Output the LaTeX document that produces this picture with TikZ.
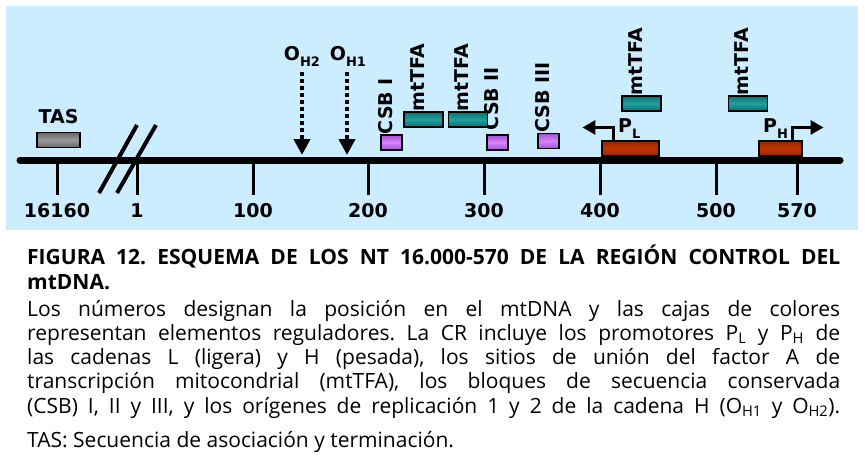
\documentclass[tikz,border=0pt]{standalone}
\usepackage{fontspec}
\setmainfont{Open Sans}
\newfontfamily\lblfont{DejaVu Sans}
\usepackage{xcolor}
\usepackage{tikz}
\usetikzlibrary{arrows.meta,positioning}
\definecolor{bgblue}{HTML}{CCECFF}
\definecolor{csbpurple}{HTML}{CC66FF}
\definecolor{tfateal}{HTML}{008C8C}
\definecolor{promred}{HTML}{C23500}
\newcommand{\sbs}[1]{\raisebox{-6pt}{\fontsize{13}{13}\selectfont #1}}
\newcommand{\capline}[1]{\makebox[813pt][s]{#1}}
\frenchspacing

\begin{document}
\begin{tikzpicture}[
  x=1pt,y=-1pt,
  lbl/.style={font=\lblfont\bfseries\fontsize{19}{19}\selectfont,inner sep=0pt},
  vlbl/.style={lbl,rotate=90,anchor=west,yshift=6pt},
  elem/.style={draw,line width=1.1pt,inner sep=0pt,minimum height=15pt},
  tasbox/.style={elem,minimum width=43pt,top color=black!60,bottom color=black!60,middle color=black!40},
  csb/.style={elem,minimum width=21pt,top color=csbpurple!80!black,bottom color=csbpurple!80!black,middle color=csbpurple!80!white},
  tfa/.style={elem,minimum width=39pt,top color=tfateal!85!black,bottom color=tfateal!85!black,middle color=tfateal!85!white},
  prom/.style={elem,top color=promred!75!black,bottom color=promred!75!black,middle color=promred},
  tick/.style={line width=3pt},
  dotarr/.style={line width=4.5pt,dash pattern=on 4pt off 3pt,-{Triangle[width=16pt,length=16pt]}},
  parr/.style={line width=3pt,-{Triangle[width=14pt,length=13pt]}},
  capt/.style={anchor=base west,inner sep=0pt,font=\fontsize{21}{21}\selectfont}
]
\useasboundingbox (0,0) rectangle (865,461);
\fill[bgblue] (6,6) rectangle (858,230);

% main strand
\coordinate (stL) at (20,160);
\coordinate (stR) at (840,160);
\draw[line width=7pt,line cap=round] (stL) -- (stR);
\foreach \xp/\pos in {57/16160,137/1,253/100,368/200,484/300,600/400,716/500,797/570}{
  \draw[tick] (\xp,160) -- (\xp,195);
  \node[lbl,anchor=base] at (\xp,217) {\pos};
}
% break
\draw[line width=4pt] (99,193) -- (137,125);
\draw[line width=4pt] (117,193) -- (156,125);

% TAS
\node[tasbox] (tas) at (58.5,140) {};
\node[lbl,above=8pt of tas] (taslbl) {TAS};

% origins
\node[lbl,anchor=base] (oh2) at (302,60) {O\sbs{H2}};
\node[lbl,anchor=base] (oh1) at (348,60) {O\sbs{H1}};
\coordinate (oh2tip) at (302,155);
\coordinate (oh1tip) at (347,155);
\draw[dotarr] (302,72) -- (oh2tip);
\draw[dotarr] (347,72) -- (oh1tip);

% CSB
\node[csb] (csb1) at (391.5,142.5) {};
\node[csb] (csb2) at (497.5,142.5) {};
\node[csb] (csb3) at (548.5,141) {};
\node[vlbl] at (csb1.north) {CSB I};
\node[vlbl,xshift=4pt] at (csb2.north) {CSB II};
\node[vlbl] at (csb3.north) {CSB III};

% mtTFA
\node[tfa] (tfa1) at (423.5,119.5) {};
\node[tfa,right=4pt of tfa1] (tfa2) {};
\node[tfa] (tfa3) at (641.5,103.5) {};
\node[tfa] (tfa4) at (748,103.5) {};
\foreach \b in {tfa1,tfa2,tfa3,tfa4}
  \node[vlbl] at (\b.north) {mtTFA};

% promoters
\node[prom,minimum width=57pt] (pl) at (630.5,148.5) {};
\node[prom,minimum width=43pt] (ph) at (780.5,148.5) {};
\draw[parr] ([xshift=12pt]pl.north west) |- ++(-31,-13);
\draw[parr] ([xshift=-10pt]ph.north east) |- ++(31,-13);
\node[lbl,anchor=base west] (pllbl) at (618,132) {P\sbs{L}};
\node[lbl,anchor=base west] (phlbl) at (763,132) {P\sbs{H}};

% caption
\node[capt] (c1) at (27,264) {\bfseries\capline{FIGURA 12. ESQUEMA DE LOS NT 16.000-570 DE LA REGIÓN CONTROL DEL}};
\node[capt] (c2) at (27,289) {\bfseries mtDNA.};
\node[capt] (c3) at (27,316) {\capline{Los números designan la posición en el mtDNA y las cajas de colores}};
\node[capt] (c4) at (27,340) {\capline{representan elementos reguladores. La CR incluye los promotores P\textsubscript{L} y P\textsubscript{H} de}};
\node[capt] (c5) at (27,364) {\capline{las cadenas L (ligera) y H (pesada), los sitios de unión del factor A de}};
\node[capt] (c6) at (27,388) {\capline{transcripción mitocondrial (mtTFA), los bloques de secuencia conservada}};
\node[capt] (c7) at (27,413) {\capline{(CSB) I, II y III, y los orígenes de replicación 1 y 2 de la cadena H (O\textsubscript{H1} y O\textsubscript{H2}).}};
\node[capt] (c8) at (27,447) {TAS: Secuencia de asociación y terminación.};
\end{tikzpicture}
\end{document}
